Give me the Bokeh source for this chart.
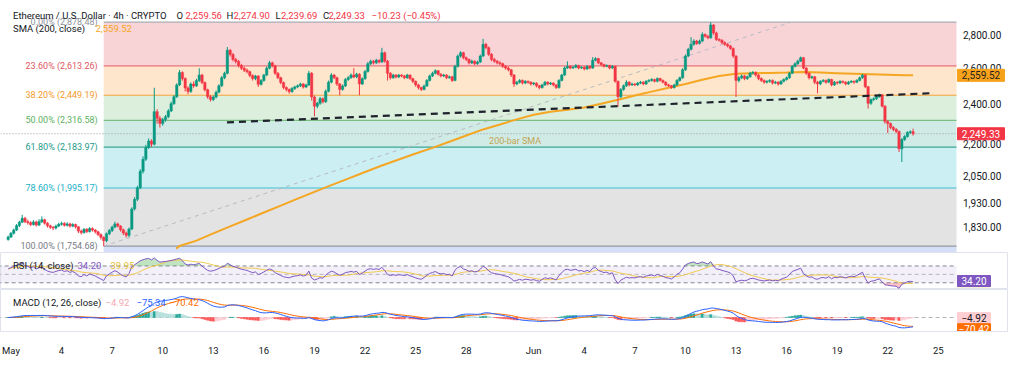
import numpy as np
import pandas as pd
from bokeh.plotting import figure
from bokeh.layouts import column
from bokeh.models import Range1d, FixedTicker, Label, ColumnDataSource
from bokeh.core.properties import value
from bokeh.embed import file_html
from bokeh.resources import INLINE

# ---------------- data (4h candles, Apr 30 20:00 -> Jun 23 12:00) ----------------
first_open = 1780.0
close = [1790,
 1805,1818,1836,1850,1866,1852,
 1848,1840,1851,1838,1852,1860,
 1846,1835,1829,1826,1834,1841,
 1845,1837,1843,1834,1840,1831,
 1814,1808,1821,1812,1824,1818,
 1811,1800,1789,1776,1803,1816,
 1830,1843,1834,1819,1806,1797,
 1822,1905,1946,1996,2070,2126,
 2182,2214,2198,2362,2328,2301,
 2321,2336,2366,2404,2441,2506,
 2576,2541,2489,2470,2511,2500,
 2530,2561,2519,2479,2441,2426,
 2440,2466,2501,2546,2571,2706,
 2680,2651,2639,2616,2600,2589,
 2580,2559,2541,2556,2509,2530,
 2561,2600,2631,2614,2571,2546,
 2519,2491,2480,2469,2486,2495,
 2501,2511,2494,2506,2571,2440,
 2391,2406,2431,2414,2471,2521,
 2561,2546,2511,2481,2500,2536,
 2546,2561,2550,2566,2511,2540,
 2581,2626,2641,2631,2646,2636,
 2690,2641,2571,2546,2561,2550,
 2561,2556,2546,2561,2541,2526,
 2506,2491,2481,2500,2531,2556,
 2571,2586,2566,2556,2561,2546,
 2551,2531,2611,2671,2691,2661,
 2651,2631,2641,2626,2636,2671,
 2741,2721,2681,2651,2641,2631,
 2626,2611,2601,2591,2561,2511,
 2521,2531,2516,2526,2521,2511,
 2516,2501,2491,2506,2521,2511,
 2516,2506,2491,2531,2561,2601,
 2611,2601,2606,2616,2601,2606,
 2596,2611,2601,2646,2656,2631,
 2621,2611,2616,2601,2611,2526,
 2441,2481,2501,2521,2506,2511,
 2506,2516,2521,2511,2526,2531,
 2536,2526,2541,2531,2521,2506,
 2501,2491,2506,2531,2546,2591,
 2671,2711,2741,2761,2746,2761,
 2801,2791,2781,2861,2811,2771,
 2766,2751,2741,2731,2716,2671,
 2531,2546,2556,2541,2551,2571,
 2576,2561,2541,2531,2521,2526,
 2531,2516,2521,2511,2526,2536,
 2546,2571,2611,2626,2641,2661,
 2601,2571,2546,2551,2521,2511,
 2526,2531,2521,2536,2506,2521,
 2516,2526,2521,2511,2521,2526,
 2521,2531,2546,2561,2496,2406,
 2426,2431,2441,2451,2391,2311,
 2301,2281,2271,2261,2176,2221,
 2236,2256,2259.56,2249.33]

high = [1796,
 1810,1824,1842,1856,1880,1872,
 1860,1854,1858,1856,1862,1874,
 1864,1850,1840,1834,1840,1848,
 1852,1850,1850,1848,1846,1844,
 1834,1820,1826,1826,1830,1829,
 1822,1815,1805,1793,1808,1822,
 1836,1852,1848,1838,1824,1812,
 1828,1912,1955,2005,2080,2140,
 2195,2226,2222,2490,2375,2340,
 2330,2345,2375,2415,2450,2515,
 2590,2582,2548,2498,2520,2525,
 2540,2600,2568,2525,2485,2450,
 2448,2475,2510,2556,2580,2725,
 2712,2690,2660,2648,2625,2610,
 2598,2586,2565,2562,2560,2538,
 2568,2610,2642,2638,2620,2578,
 2552,2524,2498,2486,2494,2502,
 2508,2518,2516,2512,2585,2578,
 2448,2414,2440,2438,2480,2530,
 2572,2566,2552,2516,2508,2544,
 2555,2570,2600,2574,2572,2548,
 2590,2636,2650,2648,2655,2652,
 2720,2698,2648,2578,2568,2566,
 2568,2566,2562,2568,2565,2546,
 2530,2512,2496,2508,2538,2564,
 2580,2594,2590,2572,2568,2566,
 2558,2556,2620,2680,2700,2696,
 2668,2656,2650,2646,2644,2680,
 2775,2750,2728,2688,2660,2648,
 2640,2632,2618,2610,2596,2566,
 2528,2538,2536,2532,2530,2526,
 2522,2520,2506,2512,2528,2526,
 2522,2520,2510,2538,2568,2610,
 2640,2618,2614,2624,2620,2612,
 2612,2618,2616,2665,2664,2660,
 2636,2626,2622,2620,2618,2614,
 2530,2488,2508,2532,2526,2518,
 2516,2522,2528,2526,2532,2538,
 2544,2540,2548,2546,2536,2526,
 2512,2506,2512,2538,2552,2600,
 2680,2720,2785,2772,2768,2770,
 2815,2808,2798,2878.48,2866,2818,
 2778,2772,2760,2748,2738,2722,
 2676,2554,2564,2562,2558,2580,
 2584,2582,2566,2548,2536,2532,
 2538,2536,2528,2526,2532,2542,
 2552,2578,2618,2634,2650,2668,
 2666,2606,2576,2558,2556,2528,
 2532,2538,2536,2542,2540,2528,
 2526,2532,2530,2526,2528,2532,
 2530,2538,2552,2566,2564,2500,
 2432,2438,2448,2458,2456,2396,
 2318,2306,2288,2278,2266,2228,
 2242,2262,2266,2274.90]

low = [1776,
 1786,1800,1814,1830,1846,1846,
 1840,1834,1836,1832,1834,1846,
 1840,1828,1822,1818,1820,1830,
 1836,1832,1832,1828,1829,1824,
 1806,1800,1803,1806,1808,1812,
 1804,1794,1780,1754.68,1770,1798,
 1810,1825,1828,1812,1798,1788,
 1790,1818,1898,1938,1990,2060,
 2118,2175,2185,2192,2300,2280,
 2290,2310,2328,2360,2398,2435,
 2500,2530,2470,2455,2462,2490,
 2495,2522,2510,2470,2430,2415,
 2418,2432,2460,2495,2538,2565,
 2668,2640,2628,2605,2590,2578,
 2570,2548,2530,2532,2495,2502,
 2524,2555,2594,2605,2562,2538,
 2510,2482,2470,2458,2462,2478,
 2488,2494,2486,2488,2500,2420,
 2338,2380,2398,2405,2408,2465,
 2515,2538,2500,2449,2474,2494,
 2528,2540,2544,2544,2449,2505,
 2535,2575,2618,2622,2625,2628,
 2630,2632,2530,2536,2540,2542,
 2544,2548,2538,2540,2534,2516,
 2496,2480,2472,2476,2495,2525,
 2550,2565,2558,2548,2550,2538,
 2540,2522,2526,2604,2662,2652,
 2642,2622,2624,2618,2620,2630,
 2665,2712,2672,2640,2632,2622,
 2618,2602,2592,2582,2550,2495,
 2504,2514,2508,2510,2512,2502,
 2504,2492,2482,2486,2500,2504,
 2505,2498,2484,2486,2526,2556,
 2596,2594,2596,2600,2594,2596,
 2588,2590,2594,2596,2640,2624,
 2614,2604,2606,2594,2596,2518,
 2388,2434,2474,2494,2498,2500,
 2500,2500,2510,2504,2506,2520,
 2524,2520,2520,2524,2514,2498,
 2494,2484,2486,2500,2524,2540,
 2585,2664,2704,2732,2738,2740,
 2754,2782,2772,2775,2800,2762,
 2758,2742,2732,2722,2708,2660,
 2440,2520,2538,2532,2534,2546,
 2564,2552,2532,2522,2512,2514,
 2518,2508,2510,2502,2506,2520,
 2530,2540,2566,2604,2620,2636,
 2594,2562,2536,2538,2510,2460,
 2504,2520,2512,2516,2498,2500,
 2508,2510,2514,2504,2506,2516,
 2512,2516,2526,2540,2488,2378,
 2398,2418,2424,2436,2384,2300,
 2253,2272,2262,2252,2160,2113,
 2214,2230,2248,2239.69]

# 200-bar SMA (day offset from May 1 00:00, value)
sma_day = [9.8, 10, 11, 12, 13, 14, 15, 16, 17, 18, 19, 20, 21, 22, 23, 24, 25, 26, 27, 28, 29, 30,
           31, 32, 33, 34, 35, 36, 37, 38, 39, 40, 41, 42, 43, 44, 45, 46, 47, 48, 49, 50, 51, 52, 53, 53.5]
sma_val = [1745, 1755, 1776, 1805, 1833, 1861, 1890, 1919, 1949, 1978, 2008, 2037, 2067, 2097, 2125, 2153,
           2180, 2210, 2241, 2271, 2296, 2322, 2346, 2361, 2372, 2384, 2404, 2425, 2448, 2469, 2490, 2511,
           2535, 2556, 2569, 2572, 2573, 2575, 2578, 2575, 2572, 2569, 2566, 2563, 2560, 2559.52]

# Fibonacci retracement
fib_ratio = [0.0, 0.236, 0.382, 0.5, 0.618, 0.786, 1.0]
fib_price = [2878.48, 2613.26, 2449.19, 2316.58, 2183.97, 1995.17, 1754.68]
fib_start_day = 5.5
fib_line_col = ["#A9ABB2", "#E7737C", "#F3A23A", "#7CBF80", "#3FA695", "#3BC2D4", "#9598A1"]
fib_text_col = ["#8F929B", "#E05862", "#F29A2B", "#5DAF61", "#23998A", "#20B0C6", "#787B86"]
fib_fill_col = ["#F9D4D7", "#FDE6CC", "#DCEEDC", "#D0EBE6", "#CCEFF4", "#E3E3E3"]
below_fill_col = "#D4DEF6"

# trend lines (day, price)
trend_day = [12.81, 54.72]
trend_price = [2306.6, 2461.0]
fibdiag_day = [5.5, 46.26]
fibdiag_price = [1754.68, 2878.48]

price_ticks = [1830, 1930, 2050, 2200, 2400, 2600, 2800]
tick_days = [0, 3, 6, 9, 12, 15, 18, 21, 24, 27, 31, 34, 37, 40, 43, 46, 49, 52, 55]
tick_labels = ["May", "4", "7", "10", "13", "16", "19", "22", "25", "28",
               "Jun", "4", "7", "10", "13", "16", "19", "22", "25"]

last_close = 2249.33
sma_last = 2559.52

# ---------------- derived ----------------
n = len(close)
opens = [first_open] + close[:-1]
xs = np.array([(i - 1) / 6.0 for i in range(n)])
o = np.array(opens, float); c = np.array(close, float)
h = np.array(high, float); l = np.array(low, float)
up = c >= o

cs = pd.Series(c)
diff = cs.diff().fillna(0).values
gain = np.clip(diff, 0, None); loss = np.clip(-diff, 0, None)
ag = np.zeros(n); al = np.zeros(n)
ag[0] = gain[1:15].mean(); al[0] = loss[1:15].mean()
for i in range(1, n):
    ag[i] = (ag[i-1] * 13 + gain[i]) / 14
    al[i] = (al[i-1] * 13 + loss[i]) / 14
rsi = 100 - 100 / (1 + ag / al)
rsi_ma = pd.Series(rsi).rolling(14, min_periods=1).mean().values
ema12 = cs.ewm(span=12, adjust=False).mean()
ema26 = cs.ewm(span=26, adjust=False).mean()
macd = (ema12 - ema26).values
signal = pd.Series(macd).ewm(span=9, adjust=False).mean().values
hist = macd - signal
hcol = []
for i in range(n):
    prev = hist[i-1] if i > 0 else 0
    if hist[i] >= 0:
        hcol.append("#26A69A" if hist[i] >= prev else "#B2DFDB")
    else:
        hcol.append("#FF5252" if hist[i] < prev else "#FFCDD2")

# ---------------- layout constants ----------------
FONT = "Roboto"
TOTAL_W = 1008
PXD = 16.862                 # pixels per day
X0 = -0.62
XP = X0 + 956 / PXD          # right edge of the plotting area
XR = X0 + TOTAL_W / PXD      # right edge incl. price-scale area
xr = Range1d(X0, XR)
DARK = "#131722"
FS = "9.5px"
BODY_W = 0.14


def ref_price(y):
    return 2878.48 * np.exp(-(y - 22.7) / 474.0)


def lab(p, x, y, text, color, x_offset=0, align="left", size=FS):
    p.add_layout(Label(x=x, y=y, text=text, text_color=color, x_offset=x_offset, text_align=align,
                       text_baseline="middle", text_font=FONT, text_font_size=size))


def scale_text(p, ys, texts, size="10px"):
    p.text(x=[XP] * len(ys), y=ys, text=texts, x_offset=6.5, text_align="left",
           text_baseline="middle", text_font=value(FONT), text_font_size=size, text_color=DARK)


def box(p, y, text, bg, fg, wpx, hpx=12):
    xc = XP + (1 + wpx / 2) / PXD
    p.rect(x=[xc], y=[y], width=wpx, height=hpx, width_units="screen", height_units="screen",
           fill_color=bg, line_color=bg)
    p.text(x=[xc], y=[y], text=[text], text_align="center", text_baseline="middle",
           text_font=value(FONT), text_font_size="10px", text_color=fg)


def base(fig):
    fig.grid.visible = False
    fig.background_fill_color = "white"
    fig.border_fill_color = "white"


# ---------------- main price panel ----------------
p1 = figure(frame_width=TOTAL_W, frame_height=252, x_range=xr, y_range=Range1d(1730, 3020),
            y_axis_type="log", y_axis_location=None, x_axis_location=None,
            toolbar_location=None, output_backend="svg",
            min_border_left=0, min_border_right=0, min_border_top=0, min_border_bottom=0)
base(p1)
p1.outline_line_color = None

# fib bands
for k in range(len(fib_price) - 1):
    p1.quad(left=fib_start_day, right=XP, top=fib_price[k], bottom=fib_price[k+1],
            fill_color=fib_fill_col[k], line_color=None)
p1.quad(left=fib_start_day, right=XP, top=fib_price[-1], bottom=1000,
        fill_color=below_fill_col, line_color=None)
for k in range(len(fib_price)):
    p1.segment(x0=fib_start_day, x1=XP, y0=fib_price[k], y1=fib_price[k],
               line_color=fib_line_col[k], line_width=1.2)

# fib diagonal
p1.line(fibdiag_day, fibdiag_price, line_color="#B7BAC2", line_width=1, line_dash="4 4")

# last price dotted line
p1.segment(x0=X0, x1=XP, y0=last_close, y1=last_close, line_color="#9598A1",
           line_width=1, line_dash="1 2")

# SMA 200
p1.line(sma_day, sma_val, line_color="#F5A623", line_width=2)

# candles
src_up = ColumnDataSource(dict(x=xs[up], o=o[up], c=c[up], h=h[up], l=l[up]))
src_dn = ColumnDataSource(dict(x=xs[~up], o=o[~up], c=c[~up], h=h[~up], l=l[~up]))
UPC, DNC = "#089981", "#F23645"
p1.segment(x0="x", x1="x", y0="h", y1="l", source=src_up, line_color=UPC, line_width=1)
p1.segment(x0="x", x1="x", y0="h", y1="l", source=src_dn, line_color=DNC, line_width=1)
p1.vbar(x="x", width=BODY_W, top="c", bottom="o", source=src_up, fill_color=UPC, line_color=UPC, line_width=0.5)
p1.vbar(x="x", width=BODY_W, top="o", bottom="c", source=src_dn, fill_color=DNC, line_color=DNC, line_width=0.5)

# black dashed trend line
p1.line(trend_day, trend_price, line_color="#1E222D", line_width=2.2, line_dash="7 5")

# price scale (right)
scale_text(p1, price_ticks, ["{:,.2f}".format(t) for t in price_ticks])

# fib labels
for k in range(len(fib_price)):
    txt = "{:.2f}% ({:,.2f})".format(fib_ratio[k] * 100, fib_price[k])
    lab(p1, fib_start_day, fib_price[k], txt, fib_text_col[k], x_offset=-6, align="right", size="9px")

# SMA text
lab(p1, 29.9, ref_price(147), "200-bar SMA", "#C4A552", align="center", size="9px")

# header
y1 = ref_price(16); y2 = ref_price(29.5)
RED = "#F23645"
lab(p1, X0, y1, "Ethereum / U.S. Dollar · 4h · CRYPTO", DARK, x_offset=12.5)
for ltr, val, xl, xv in [("O", "2,259.56", 176, 185), ("H", "2,274.90", 226, 233),
                         ("L", "2,239.69", 275, 280.5), ("C", "2,249.33", 322.5, 328)]:
    lab(p1, X0, y1, ltr, DARK, x_offset=xl)
    lab(p1, X0, y1, val, RED, x_offset=xv)
lab(p1, X0, y1, "−10.23 (−0.45%)", RED, x_offset=371)
lab(p1, X0, y2, "SMA (200, close)", DARK, x_offset=12.5)
lab(p1, X0, y2, "2,559.52", "#F5A623", x_offset=95)

# right value boxes
box(p1, sma_last, "2,559.52", "#F7A21B", "#1E1E1E", 47)
box(p1, last_close, "2,249.33", RED, "white", 47)

# ---------------- RSI panel ----------------
p2 = figure(frame_width=TOTAL_W, frame_height=37, x_range=xr, y_range=Range1d(14, 102),
            y_axis_location=None, x_axis_location=None, toolbar_location=None,
            output_backend="svg", min_border_left=0, min_border_right=0,
            min_border_top=0, min_border_bottom=0)
base(p2)
p2.outline_line_color = "#E0E3EB"
p2.quad(left=X0 - 1, right=XP, top=70, bottom=30, fill_color="#7E57C2", fill_alpha=0.09, line_color=None)
for lv, a in [(70, 0.9), (50, 0.5), (30, 0.9)]:
    p2.segment(x0=X0 - 1, x1=XP, y0=lv, y1=lv, line_color="#787B86", line_alpha=a,
               line_width=1, line_dash="4 3")
p2.varea(x=xs, y1=np.full(n, 70.0), y2=np.where(rsi > 70, rsi, 70.0), fill_color="#4CAF50", fill_alpha=0.35)
p2.varea(x=xs, y1=np.full(n, 30.0), y2=np.where(rsi < 30, rsi, 30.0), fill_color="#F23645", fill_alpha=0.3)
p2.line(xs, rsi_ma, line_color="#F2C94C", line_width=1)
p2.line(xs, rsi, line_color="#7E57C2", line_width=1)
yr = 71.4
lab(p2, X0, yr, "RSI (14, close)", DARK, x_offset=12.5)
lab(p2, X0, yr, "34.20", "#7E57C2", x_offset=77)
lab(p2, X0, yr, "39.95", "#E8C02E", x_offset=110)
box(p2, 32.5, "39.95", "#F2C94C", "#1E1E1E", 33, 10)
box(p2, 34.2, "34.20", "#7E57C2", "white", 33, 11)

# ---------------- MACD panel ----------------
p3 = figure(frame_width=TOTAL_W, frame_height=42, x_range=xr, y_range=Range1d(-110, 220),
            y_axis_location=None, toolbar_location=None, output_backend="svg",
            min_border_left=0, min_border_right=0, min_border_top=0, min_border_bottom=26)
base(p3)
p3.outline_line_color = "#E0E3EB"
p3.segment(x0=X0 - 1, x1=XP, y0=0, y1=0, line_color="#B2B5BE", line_width=1, line_dash="4 3")
p3.vbar(x=xs, top=hist, bottom=0, width=BODY_W, fill_color=hcol, line_color=hcol, line_width=0.5)
p3.line(xs, signal, line_color="#FF6D00", line_width=1)
p3.line(xs, macd, line_color="#2962FF", line_width=1)
ym = 116.7
lab(p3, X0, ym, "MACD (12, 26, close)", DARK, x_offset=12.5)
lab(p3, X0, ym, "−4.92", "#F4A7AE", x_offset=105)
lab(p3, X0, ym, "−75.34", "#2962FF", x_offset=136)
lab(p3, X0, ym, "−70.42", "#FF6D00", x_offset=169)
box(p3, -4.92, "−4.92", "#FFCDD2", "#131722", 33, 11)
box(p3, -92, "−70.42", "#FF6D00", "white", 33, 11)

p3.xaxis.ticker = FixedTicker(ticks=tick_days)
p3.xaxis.major_label_overrides = {d: t for d, t in zip(tick_days, tick_labels)}
p3.xaxis.axis_line_color = "#E0E3EB"
p3.xaxis.major_tick_line_color = None
p3.xaxis.minor_tick_line_color = None
p3.xaxis.major_label_text_font = FONT
p3.xaxis.major_label_text_font_size = FS
p3.xaxis.major_label_text_color = DARK
p3.xaxis.major_label_standoff = 7

layout = column(p1, p2, p3, spacing=0)
open("out.html", "w").write(file_html(layout, INLINE))
